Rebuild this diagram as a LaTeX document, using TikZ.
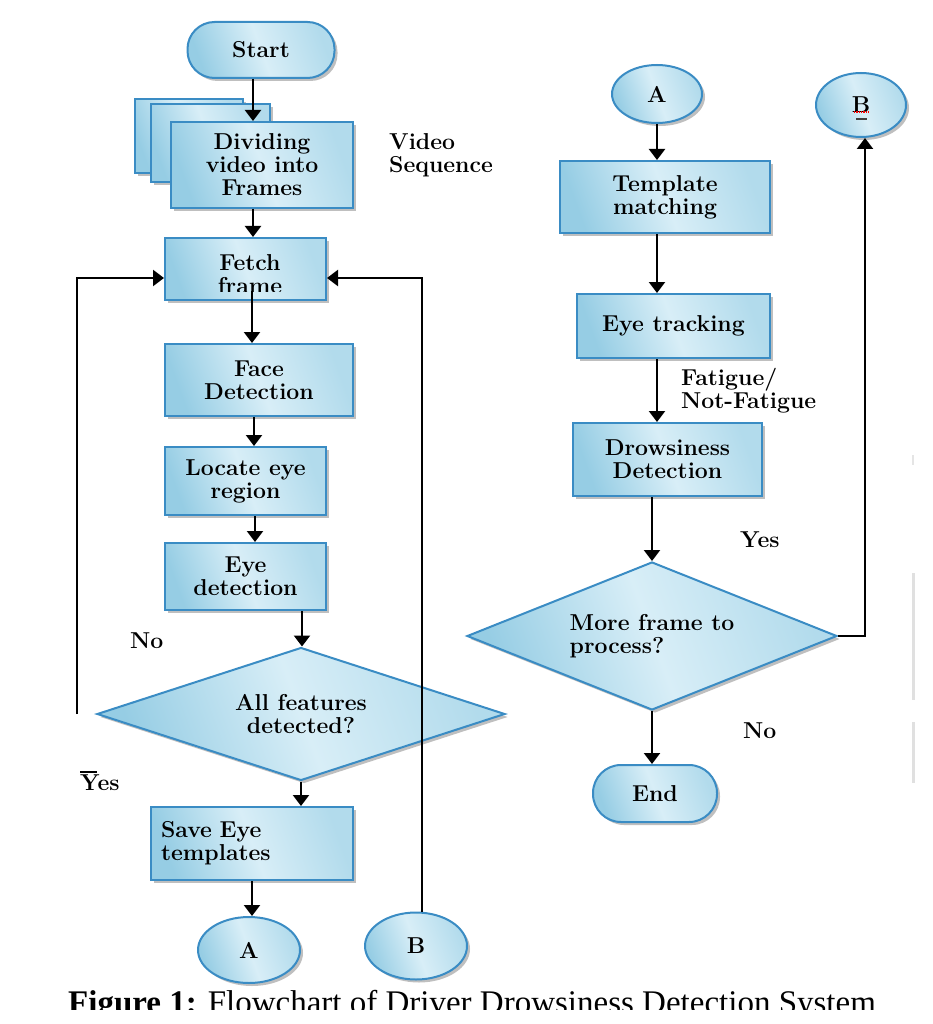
\documentclass[tikz,border=0pt]{standalone}
\usepackage{fontspec}
\newfontfamily\capfont{Liberation Serif}
\usetikzlibrary{shapes.geometric,shadows,arrows.meta}

\definecolor{bxedge}{RGB}{58,140,196}
\definecolor{bxL}{RGB}{150,205,228}
\definecolor{bxM}{RGB}{216,238,247}
\definecolor{bxR}{RGB}{178,219,236}

\begin{document}
\begin{tikzpicture}[x=1pt,y=-1pt,
  every node/.style={font=\fontsize{23}{23}\selectfont\bfseries},
  sz/.style 2 args={minimum width=#1pt, minimum height=#2pt},
  fillbox/.style={draw=bxedge, line width=2pt,
    left color=bxL, right color=bxR, middle color=bxM, shading angle=110,
    drop shadow={shadow xshift=3pt, shadow yshift=-3pt, opacity=.45, fill=black!55}},
  stepbox/.style={fillbox, rectangle, inner sep=2pt, align=center},
  capsule/.style={fillbox, rectangle, rounded corners=27pt, inner sep=2pt},
  connector/.style={fillbox, ellipse, inner sep=0pt},
  decision/.style={fillbox, diamond, aspect=3, inner sep=0pt, align=center},
  arr/.style={line width=2.3pt, -{Triangle[width=16pt,length=11pt]}},
  lbl/.style={inner sep=0pt, align=left}]

\fill[white] (0,0) rectangle (932,1024);
\useasboundingbox (0,0) rectangle (932,1024);

% ---- left column ----
\node[capsule, sz={147}{56}] (start) at (261,50) {Start};

% stacked pages behind the video step
\draw[fillbox] (135,99) rectangle (243,173);
\draw[fillbox] (151,104) rectangle (270,182);
\node[stepbox, sz={182}{86}] (div) at (262,165) {Dividing\\video into\\Frames};

\node[stepbox, sz={161}{62}] (fetch) at (245.5,269) {};
\begin{scope}
  \clip (fetch.north west) rectangle ([yshift=10pt]fetch.south east);
  \node[align=center, inner sep=0pt] (fetchtxt) at (250,274) {Fetch\\frame};
\end{scope}

\node[stepbox, sz={188}{72}] (face) at (259,380) {Face\\Detection};
\node[stepbox, sz={161}{68}] (loc) at (245.5,481) {Locate eye\\region};
\node[stepbox, sz={161}{67}] (eyed) at (245.5,576.5) {Eye\\detection};
\node[decision, sz={408}{133}] (dia1) at (301,714) {All features\\detected?};
\node[stepbox, sz={202}{73}, text width=182pt, align=left] (save) at (252,843.5) {Save Eye\\templates};
\node[connector, sz={102}{66}] (A1) at (249,950) {A};
\node[connector, sz={102}{67}] (B1) at (416,946) {B};

\node[lbl, anchor=north west] (vidseq) at (389,133) {Video\\Sequence};
\node[lbl, anchor=west] (no1) at (130,641) {No};
\node[lbl, anchor=west] (yes1) at (80,783) {Yes};
\draw[line width=1.5pt] ([yshift=3pt]yes1.north west) -- ([xshift=17pt,yshift=3pt]yes1.north west);

\coordinate (noL) at (77,714);
\coordinate (e1) at ([xshift=56.5pt]eyed.south);
\coordinate (d1) at ([xshift=-9pt]div.south);
\coordinate (s1) at ([xshift=-8pt]start.south);

\draw[arr] (s1) -- (s1 |- div.north);
\draw[arr] (d1) -- (d1 |- fetch.north);
\draw[arr] ([xshift=6.5pt,yshift=10pt]fetch.south) -- ([xshift=-7pt]face.north);
\draw[arr] ([xshift=-5pt]face.south) -- ([xshift=8.5pt]loc.north);
\draw[arr] ([xshift=9.5pt]loc.south) -- ([xshift=9.5pt]eyed.north);
\draw[arr] (e1) -- (e1 |- dia1.north);
\draw[arr] (dia1.south) -- (dia1.south |- save.north);
\draw[arr] (save.south) -- (save.south |- A1.north);
\draw[arr] (noL) |- ([yshift=-9pt]fetch.west);
\draw[arr] ([xshift=6pt]B1.north) |- ([yshift=-9pt]fetch.east);

% ---- right column ----
\node[connector, sz={90}{58}] (A2) at (657,94) {A};
\node[connector, sz={90}{64}] (B2) at (861,105) {B};
\draw[red, line width=1.3pt, densely dotted] ([xshift=-7pt,yshift=-7pt]B2.center) -- ([xshift=8pt,yshift=-7pt]B2.center);
\draw[black!75, line width=1.3pt] ([xshift=-5pt,yshift=-14pt]B2.center) -- ([xshift=6pt,yshift=-14pt]B2.center);

\node[stepbox, sz={210}{72}] (tmpl) at (665,197) {Template\\matching};
\node[stepbox, sz={193}{64}] (track) at (673.5,326) {Eye tracking};
\node[stepbox, sz={189}{73}] (drow) at (667.5,459.5) {Drowsiness\\Detection};
\node[decision, sz={370}{148}, align=left] (dia2) at (652,636) {More frame to\\process?};
\node[capsule, sz={124}{57}, rounded corners=28pt] (endn) at (655,793.5) {End};

\node[lbl, anchor=north west] (fat) at (681,368) {Fatigue/\\Not-Fatigue};
\node[lbl, anchor=west] (yes2) at (740,540) {Yes};
\node[lbl, anchor=west] (no2) at (743,731) {No};

\coordinate (t1) at ([xshift=-8pt]tmpl.south);
\coordinate (r1) at ([xshift=-16.5pt]track.south);
\coordinate (w1) at ([xshift=-15.5pt]drow.south);

\draw[arr] (A2.south) -- (A2.south |- tmpl.north);
\draw[arr] (t1) -- (t1 |- track.north);
\draw[arr] (r1) -- (r1 |- drow.north);
\draw[arr] (w1) -- (w1 |- dia2.north);
\draw[arr] (dia2.east) -| ([xshift=4pt]B2.south);
\draw[arr] (dia2.south) -- (dia2.south |- endn.north);

% faint marks along the right edge
\draw[black!12, line width=3pt] (913,573) -- (913,700);
\draw[black!12, line width=3pt] (913,722) -- (913,783);
\draw[black!10, line width=2pt] (913,455) -- (913,465);

% ---- caption ----
\begin{scope}
  \clip (0,975) rectangle (932,1009);
  \node[anchor=base west, inner sep=0pt, font=\capfont\fontsize{33}{33}\selectfont] (cap) at (68,1013)
    {\textbf{Figure 1:} Flowchart of Driver Drowsiness Detection System};
\end{scope}

\end{tikzpicture}
\end{document}
